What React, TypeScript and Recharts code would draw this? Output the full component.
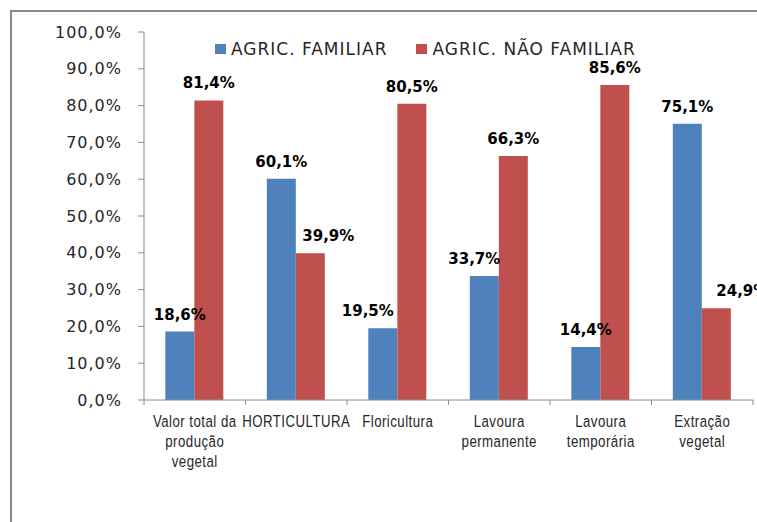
import { Bar, BarChart, LabelList, Legend, XAxis, YAxis } from "recharts";

const categories = [
  "Valor total da produção vegetal",
  "HORTICULTURA",
  "Floricultura",
  "Lavoura permanente",
  "Lavoura temporária",
  "Extração vegetal",
];
const categoryLines = [
  ["Valor total da", "produção", "vegetal"],
  ["HORTICULTURA"],
  ["Floricultura"],
  ["Lavoura", "permanente"],
  ["Lavoura", "temporária"],
  ["Extração", "vegetal"],
];
const familiar = [18.6, 60.1, 19.5, 33.7, 14.4, 75.1];
const naoFamiliar = [81.4, 39.9, 80.5, 66.3, 85.6, 24.9];
const yTicks = [0, 10, 20, 30, 40, 50, 60, 70, 80, 90, 100];

const data = categories.map((name, i) => ({
  name,
  familiar: familiar[i],
  naoFamiliar: naoFamiliar[i],
}));

const W = 757;
const H = 522;
const MARGIN = { top: 32, right: 4, bottom: 0, left: 0 };
const Y_AXIS_W = 144;
const BAND = (W - MARGIN.right - Y_AXIS_W) / categories.length;

const BLUE = "#4F81BD";
const RED = "#C0504D";
const AXIS = "#8C8C8C";
const TEXT = "#262626";
const SANS = "'DejaVu Sans', Verdana, sans-serif";
const NARROW = "'Liberation Sans', Arial, sans-serif";

// the original has a few labels dragged sideways by hand
const famLabelShift = [0, 0, -15, -10, 0, 0];
const naoLabelShift = [0, 18, 0, 0, 0, 26];

const pct = (v: number) => v.toFixed(1).replace(".", ",") + "%";

function makeLabel(shift: number[]) {
  return (props: any) => {
    const { x, y, width, value, index } = props;
    return (
      <text
        x={Number(x) + Number(width) / 2 + (shift[index] ?? 0)}
        y={Number(y) - 12}
        textAnchor="middle"
        fontFamily={SANS}
        fontWeight="bold"
        fontSize={15}
        fill="#000"
      >
        {pct(Number(value))}
      </text>
    );
  };
}

function CategoryTick(props: any) {
  const { x, y, index, payload } = props;
  const lines = categoryLines[index] ?? [payload.value];
  const half = BAND / 2;
  return (
    <g>
      <line x1={x - half} x2={x - half} y1={y} y2={y + 5} stroke={AXIS} />
      {index === categories.length - 1 && (
        <line x1={x + half} x2={x + half} y1={y} y2={y + 5} stroke={AXIS} />
      )}
      {/* narrow font look: squeeze a regular sans sideways */}
      <g transform={`translate(${x}, ${y + 27}) scale(0.78, 1)`}>
        <text
          x={0}
          y={0}
          textAnchor="middle"
          fontFamily={NARROW}
          fontSize={17}
          letterSpacing={0.6}
          fill={TEXT}
        >
          {lines.map((l, i) => (
            <tspan key={i} x={0} dy={i === 0 ? 0 : 20}>
              {l}
            </tspan>
          ))}
        </text>
      </g>
    </g>
  );
}

function LegendBox() {
  const items = [
    { label: "AGRIC. FAMILIAR", color: BLUE },
    { label: "AGRIC. NÃO FAMILIAR", color: RED },
  ];
  return (
    <div
      style={{
        display: "flex",
        alignItems: "center",
        fontFamily: SANS,
        fontSize: 17,
        letterSpacing: 1,
        lineHeight: "20px",
        color: TEXT,
        whiteSpace: "nowrap",
      }}
    >
      {items.map((it, i) => (
        <div
          key={it.label}
          style={{ display: "flex", alignItems: "center", marginLeft: i ? 29 : 0 }}
        >
          <span
            style={{
              width: 11,
              height: 10,
              background: it.color,
              marginRight: 5,
              display: "inline-block",
            }}
          />
          <span>{it.label}</span>
        </div>
      ))}
    </div>
  );
}

export default function App() {
  return (
    <div
      style={{
        position: "absolute",
        left: 0,
        top: 0,
        width: W,
        height: H,
        overflow: "hidden",
        background: "#fff",
      }}
    >
      <div
        style={{
          position: "absolute",
          left: 10,
          top: 10,
          width: 800,
          height: 600,
          border: "2px solid #8A8A8A",
        }}
      />
      <BarChart
        width={W}
        height={H}
        data={data}
        margin={MARGIN}
        barCategoryGap="21%"
        barGap={0}
      >
        <XAxis
          dataKey="name"
          height={122}
          interval={0}
          stroke={AXIS}
          tickLine={false}
          tickSize={0}
          tickMargin={0}
          tick={<CategoryTick />}
        />
        <YAxis
          width={Y_AXIS_W}
          domain={[0, 100]}
          ticks={yTicks}
          stroke={AXIS}
          tickSize={6}
          tickMargin={16}
          tickFormatter={pct}
          tick={{ fontFamily: SANS, fontSize: 16, fill: TEXT, letterSpacing: 1 }}
        />
        <Legend
          layout="vertical"
          verticalAlign="middle"
          align="center"
          wrapperStyle={{ top: 39, left: 215, width: 480, height: 20 }}
          content={() => <LegendBox />}
        />
        <Bar dataKey="familiar" fill={BLUE} isAnimationActive={false}>
          <LabelList dataKey="familiar" content={makeLabel(famLabelShift)} />
        </Bar>
        <Bar dataKey="naoFamiliar" fill={RED} isAnimationActive={false}>
          <LabelList dataKey="naoFamiliar" content={makeLabel(naoLabelShift)} />
        </Bar>
      </BarChart>
    </div>
  );
}
